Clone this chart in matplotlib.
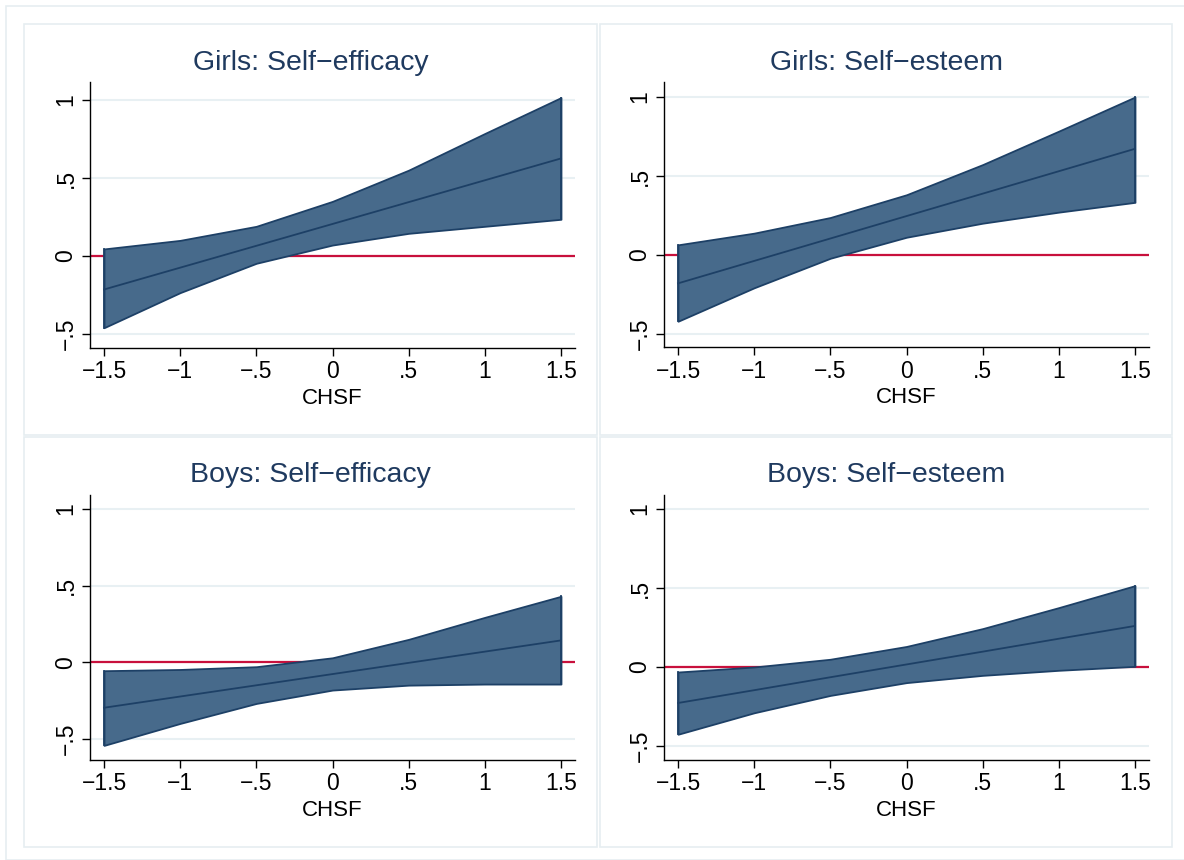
import matplotlib.pyplot as plt
import matplotlib.patches as mpatches
import numpy as np

plt.rcParams['font.family'] = ['Liberation Sans', 'DejaVu Sans']

# ---------------------------------------------------
chsf = [-1.5, -1.0, -0.5, 0.0, 0.5, 1.0, 1.5]

titles = ['Girls: Self\u2212efficacy', 'Girls: Self\u2212esteem',
          'Boys: Self\u2212efficacy', 'Boys: Self\u2212esteem']

# girls self-efficacy
ge_hi = [0.045, 0.10, 0.19, 0.35, 0.55, 0.785, 1.015]
ge_mid = [-0.215, -0.075, 0.065, 0.205, 0.345, 0.485, 0.625]
ge_lo = [-0.46, -0.235, -0.047, 0.07, 0.145, 0.19, 0.235]

# girls self-esteem
gs_hi = [0.064, 0.138, 0.237, 0.381, 0.572, 0.784, 1.0]
gs_mid = [-0.18, -0.038, 0.104, 0.246, 0.388, 0.530, 0.672]
gs_lo = [-0.42, -0.208, -0.021, 0.112, 0.201, 0.271, 0.333]

# boys self-efficacy
be_hi = [-0.054, -0.046, -0.028, 0.030, 0.150, 0.293, 0.43]
be_mid = [-0.295, -0.222, -0.149, -0.076, -0.003, 0.070, 0.143]
be_lo = [-0.54, -0.397, -0.267, -0.18, -0.148, -0.141, -0.141]

# boys self-esteem
bs_hi = [-0.032, 0.0, 0.049, 0.13, 0.243, 0.376, 0.515]
bs_mid = [-0.228, -0.147, -0.065, 0.016, 0.097, 0.179, 0.26]
bs_lo = [-0.426, -0.29, -0.18, -0.099, -0.053, -0.021, 0.004]

xticks = [-1.5, -1, -0.5, 0, 0.5, 1, 1.5]
xticklabels = ['\u22121.5', '\u22121', '\u2212.5', '0', '.5', '1', '1.5']
yticks = [-0.5, 0, 0.5, 1]
yticklabels = ['\u2212.5', '0', '.5', '1']
xlabel = 'CHSF'

series = [(ge_lo, ge_mid, ge_hi), (gs_lo, gs_mid, gs_hi),
          (be_lo, be_mid, be_hi), (bs_lo, bs_mid, bs_hi)]

# ---------------------------------------------------
W, H = 1184, 860
fig = plt.figure(figsize=(W / 100, H / 100), dpi=100)
fig.patch.set_facecolor('white')

frame_col = '#e6eef1'
# outer frame
fig.add_artist(mpatches.Rectangle((6 / W, 0), 1, 1 - 6 / H, transform=fig.transFigure,
                                  fill=False, ec=frame_col, lw=1.2))
# panel frames (left, top, right, bottom) in px
panels = [(24, 24, 597, 435), (600, 24, 1172, 435),
          (24, 437, 597, 847), (600, 437, 1172, 847)]
for (l, t, r, b) in panels:
    fig.add_artist(mpatches.Rectangle((l / W, 1 - b / H), (r - l) / W, (b - t) / H,
                                      transform=fig.transFigure, fill=False,
                                      ec=frame_col, lw=1.2))

# axes boxes (left, top, right, bottom) px and y limits
axes_px = [(90, 82, 575, 348), (664, 82, 1149, 347),
           (90, 495, 575, 760), (664, 495, 1149, 760)]
ylims = [(-0.59, 1.115), (-0.583, 1.095), (-0.635, 1.089), (-0.589, 1.089)]

fill_col = '#476a8b'
edge_col = '#1d4066'
red_col = '#c8103c'
title_col = '#1f3a5f'

for i in range(4):
    l, t, r, b = axes_px[i]
    ax = fig.add_axes([l / W, 1 - b / H, (r - l) / W, (b - t) / H])
    lo, mid, hi = series[i]
    ax.axhline(0, color=red_col, lw=1.6, zorder=2)
    ax.fill_between(chsf, lo, hi, facecolor=fill_col, edgecolor=edge_col, lw=1.3, zorder=3)
    ax.plot([chsf[0], chsf[0]], [lo[0], hi[0]], color=edge_col, lw=1.3, zorder=4)
    ax.plot([chsf[-1], chsf[-1]], [lo[-1], hi[-1]], color=edge_col, lw=1.3, zorder=4)
    ax.plot(chsf, mid, color=edge_col, lw=1.3, zorder=4)

    ax.set_xlim(-1.592, 1.592)
    ax.set_ylim(*ylims[i])
    ax.set_xticks(xticks)
    ax.set_xticklabels(xticklabels, fontsize=16.5)
    ax.set_yticks(yticks)
    ax.set_yticklabels(yticklabels, fontsize=16.5, rotation=90, va='center')
    ax.tick_params(length=6, width=1, color='black', pad=3)
    ax.yaxis.grid(True, color='#e8f0f3', lw=1.5, zorder=0)
    ax.set_axisbelow(True)
    for s in ['top', 'right']:
        ax.spines[s].set_visible(False)
    for s in ['left', 'bottom']:
        ax.spines[s].set_linewidth(1.0)
    ax.set_xlabel(xlabel, fontsize=16, labelpad=3)
    # title centred on the panel, not on the plot area
    pl, pt, pr, pb = panels[i]
    tx = ((pl + pr) / 2 - l) / (r - l)
    ax.set_title(titles[i], fontsize=20.5, color=title_col, pad=9, x=tx)

fig.savefig('out.png', dpi=100)
